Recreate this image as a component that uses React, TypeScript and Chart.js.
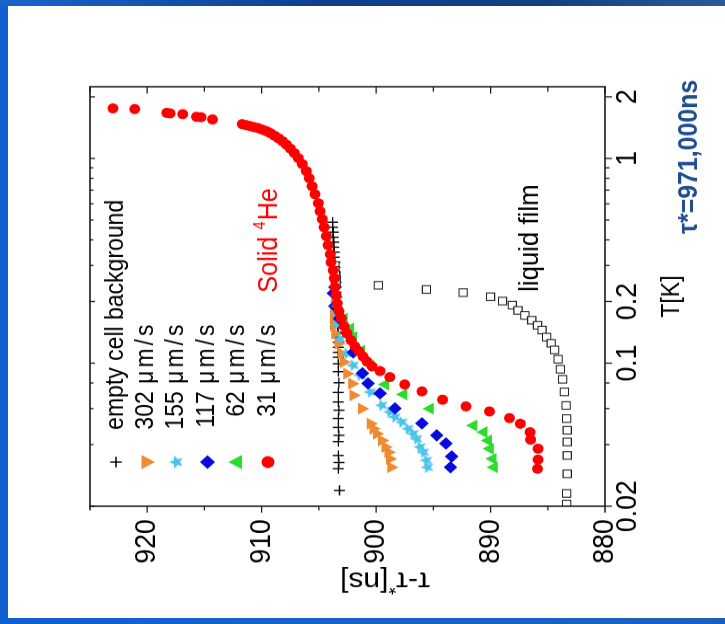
import React, { useEffect, useRef } from 'react';
import { Chart, registerables } from 'chart.js';
import { drawPoint } from 'chart.js/helpers';

Chart.register(...registerables);

const FONT = '"Liberation Sans", Arial, Helvetica, sans-serif';

// Temperature T [K] and delay tau - tau* [ns] for each run

const tempBackground = [
  0.488, 0.4613, 0.4361, 0.4123, 0.3897, 0.3684, 0.3483, 0.3292, 0.3112, 0.2942,
  0.278, 0.2628, 0.2485, 0.2349, 0.222, 0.2099, 0.1984, 0.1875, 0.1772, 0.1675,
  0.1583, 0.1497, 0.1415, 0.1337, 0.1264, 0.1195, 0.1129, 0.1068, 0.0993, 0.0909,
  0.0802, 0.0719, 0.0646, 0.0589, 0.0537, 0.0485, 0.0444, 0.0414, 0.0354, 0.0327,
  0.0305, 0.0239,
];
const tauBackground = [
  903.8, 903.8, 903.75, 903.75, 903.7, 903.7, 903.65, 903.65, 903.6, 903.6,
  903.55, 903.55, 903.5, 903.5, 903.5, 903.45, 903.45, 903.4, 903.4, 903.4,
  903.35, 903.35, 903.35, 903.3, 903.3, 903.3, 903.3, 903.3, 903.3, 903.3,
  903.25, 903.3, 903.3, 903.25, 903.3, 903.3, 903.25, 903.3, 903.3, 903.25,
  903.3, 903.2,
];

const temp302 = [
  0.2, 0.18, 0.165, 0.1526, 0.1394, 0.1246, 0.1113, 0.1012, 0.0888, 0.0794,
  0.0696, 0.0599, 0.0506, 0.0478, 0.0452, 0.0419, 0.0389, 0.0367, 0.0341, 0.031,
];
const tau302 = [
  903.6, 903.7, 903.7, 903.7, 903.6, 903.3, 903.0, 902.85, 902.55, 902.1,
  902.0, 901.25, 900.5, 900.25, 899.95, 899.5, 899.2, 898.95, 898.8, 898.7,
];

const temp155 = [
  0.2, 0.175, 0.155, 0.1317, 0.1113, 0.0976, 0.0872, 0.0722, 0.0622, 0.0577,
  0.0545, 0.0515, 0.0478, 0.0452, 0.0427, 0.0389, 0.0367, 0.0335, 0.031,
];
const tau155 = [
  903.5, 903.5, 903.4, 903.15, 902.55, 902.0, 901.4, 900.5, 899.5, 898.8,
  898.35, 897.75, 897.2, 896.75, 896.45, 896.15, 895.85, 895.6, 895.5,
];

const temp117 = [
  0.235, 0.2195, 0.19, 0.165, 0.14, 0.1129, 0.0892, 0.0796, 0.0712, 0.0601,
  0.0508, 0.0444, 0.0405, 0.035, 0.031,
];
const tau117 = [
  903.6, 903.75, 903.6, 903.2, 902.55, 902.0, 901.2, 900.7, 899.65, 898.35,
  896.0, 894.7, 893.9, 893.4, 893.5,
];

const temp62 = [
  0.19, 0.165, 0.1475, 0.1341, 0.115, 0.0976, 0.0787, 0.0704, 0.0599, 0.0496,
  0.046, 0.0419, 0.0382, 0.0341, 0.031,
];
const tau62 = [
  903.3, 902.8, 902.25, 902.0, 901.3, 900.5, 899.2, 897.6, 895.3, 891.5,
  890.6, 890.2, 890.05, 889.8, 889.7,
];

const temp31 = [
  1.756, 1.742, 1.67, 1.66, 1.646, 1.597, 1.59, 1.551, 1.471, 1.455,
  1.439, 1.422, 1.407, 1.383, 1.36, 1.33, 1.293, 1.257, 1.215, 1.168,
  1.117, 1.062, 1.003, 0.938, 0.867, 0.801, 0.732, 0.669, 0.604, 0.552,
  0.505, 0.461, 0.417, 0.377, 0.34, 0.311, 0.284, 0.26, 0.235, 0.2145,
  0.196, 0.179, 0.1656, 0.1514, 0.1399, 0.1293, 0.1208, 0.1142, 0.108, 0.102,
  0.0964, 0.0915, 0.0855, 0.0787, 0.0728, 0.0663, 0.0615, 0.0581, 0.0539, 0.0506,
  0.046, 0.0423, 0.0382, 0.0338, 0.0305,
];
const tau31 = [
  923.0, 921.1, 918.3, 918.0, 916.9, 915.7, 915.3, 914.3, 911.7, 911.35,
  911.0, 910.65, 910.3, 909.95, 909.6, 909.25, 908.9, 908.55, 908.2, 907.85,
  907.5, 907.15, 906.8, 906.45, 906.1, 905.85, 905.6, 905.35, 905.05, 904.9,
  904.7, 904.55, 904.35, 904.2, 904.0, 903.95, 903.75, 903.65, 903.6, 903.5,
  903.4, 903.25, 903.05, 902.8, 902.55, 902.2, 901.85, 901.5, 901.15, 900.8,
  900.35, 899.65, 898.8, 897.5, 896.0, 894.2, 892.15, 890.1, 888.35, 887.4,
  886.55, 886.5, 885.85, 885.85, 885.9,
];

const tempFilm = [
  0.3, 0.284, 0.27, 0.258, 0.249, 0.24, 0.229, 0.221, 0.211, 0.201,
  0.192, 0.181, 0.171, 0.162, 0.153, 0.145, 0.134, 0.125, 0.116, 0.1045,
  0.0934, 0.0834, 0.0724, 0.0621, 0.0536, 0.047, 0.0412, 0.0354, 0.0288, 0.0231,
  0.0205,
];
const tauFilm = [
  903.6, 903.6, 903.55, 903.5, 903.5, 899.8, 895.6, 892.4, 890.0, 888.95,
  888.1, 887.6, 887.0, 886.4, 885.9, 885.5, 885.1, 884.7, 884.4, 884.1,
  883.9, 883.7, 883.55, 883.4, 883.35, 883.3, 883.3, 883.3, 883.3, 883.35,
  883.35,
];

// Axis ticks
const T_TICKS = [0.02, 0.04, 0.06, 0.08, 0.1, 0.2, 0.3, 0.4, 0.5, 0.6, 0.7, 0.8, 0.9, 1, 2];
const T_LABELS = [0.02, 0.1, 0.2, 1, 2];
const T_MIN = 0.02;
const T_MAX = 2.24;
const TAU_MIN = 880;
const TAU_MAX = 925;
const TAU_STEP = 5;
const TAU_LABEL_STEP = 10;

// The panel is laid out lying on its side and turned a quarter turn on screen
const PANEL_W = 678;
const PANEL_H = 725;
const SQUEEZE = 0.92;

const pts = (t: number[], tau: number[]) => t.map((v, i) => ({ x: v, y: tau[i] }));

function makeStar(color: string, r: number) {
  const size = Math.ceil(r * 2) + 2;
  const c = document.createElement('canvas');
  c.width = size;
  c.height = size;
  const g = c.getContext('2d')!;
  g.translate(size / 2, size / 2);
  g.beginPath();
  for (let i = 0; i < 10; i++) {
    const rr = i % 2 === 0 ? r : r * 0.45;
    const a = -Math.PI / 2 + (i * Math.PI) / 5;
    g.lineTo(rr * Math.cos(a), rr * Math.sin(a));
  }
  g.closePath();
  g.fillStyle = color;
  g.fill();
  return c;
}

const framePlugin = {
  id: 'frame',
  afterDatasetsDraw(chart: any) {
    const { ctx, chartArea: a, scales } = chart;
    const x = scales.x;
    const y = scales.y;
    ctx.save();
    ctx.strokeStyle = '#1a1a1a';
    ctx.lineWidth = 1.6;
    ctx.strokeRect(a.left, a.top, a.right - a.left, a.bottom - a.top);
    ctx.lineWidth = 1.3;
    ctx.beginPath();
    for (const t of x.ticks) {
      const px = x.getPixelForValue(t.value);
      const major = T_LABELS.includes(t.value);
      ctx.moveTo(px, a.bottom);
      ctx.lineTo(px, a.bottom + (major ? 7 : 4.5));
      ctx.moveTo(px, a.top);
      ctx.lineTo(px, a.top + (major ? 5 : 3.5));
    }
    for (const t of y.ticks) {
      const py = y.getPixelForValue(t.value);
      const major = t.value % TAU_LABEL_STEP === 0;
      ctx.moveTo(a.left, py);
      ctx.lineTo(a.left - (major ? 7 : 4.5), py);
      ctx.moveTo(a.right, py);
      ctx.lineTo(a.right - (major ? 7.5 : 5.5), py);
    }
    ctx.stroke();
    ctx.restore();
  },
};

// draws a word with its letters spread evenly to end at a given position
function spreadText(ctx: CanvasRenderingContext2D, text: string, start: number, end: number, v: number) {
  const chars = Array.from(text);
  const widths = chars.map((c) => ctx.measureText(c).width);
  const natural = widths.reduce((s, w) => s + w, 0);
  const gap = chars.length > 1 ? Math.max(0, (end - start - natural) / (chars.length - 1)) : 0;
  let u = start;
  chars.forEach((c, i) => {
    ctx.fillText(c, u, v);
    u += widths[i] + gap;
  });
}

const notesPlugin = {
  id: 'notes',
  afterDraw(chart: any) {
    const ctx = chart.ctx;
    const sets = chart.data.datasets;
    ctx.save();

    // legend, one row per run
    const legendOrder = [6, 4, 3, 2, 1, 0];
    const legendSize = [5.8, 9, 7, 7.5, 9, 6.5];
    const rowV = [116, 146, 176.5, 207.5, 237.5, 268];
    ctx.textBaseline = 'middle';
    ctx.fillStyle = '#000';
    legendOrder.forEach((di, i) => {
      const ds = sets[di];
      const v = rowV[i];
      ctx.save();
      ctx.fillStyle = ds.pointBackgroundColor;
      ctx.strokeStyle = ds.pointBorderColor;
      ctx.lineWidth = ds.pointBorderWidth;
      const style = typeof ds.pointStyle === 'string' ? ds.pointStyle : ds.legendStar;
      drawPoint(
        ctx,
        {
          pointStyle: style,
          rotation: ds.pointRotation || 0,
          radius: legendSize[i],
          borderWidth: ds.pointBorderWidth,
        },
        176,
        v
      );
      ctx.restore();
      ctx.font = `25px ${FONT}`;
      ctx.fillStyle = '#000';
      ctx.textAlign = 'left';
      const label: string = ds.label;
      const sp = label.indexOf(' μm/s');
      if (sp < 0) {
        ctx.fillText(label, 211, v);
      } else {
        ctx.textAlign = 'right';
        ctx.fillText(label.slice(0, sp), 253, v);
        ctx.textAlign = 'left';
        spreadText(ctx, 'μm/s', 261, 338 - ctx.measureText('s').width, v);
      }
    });

    // sample label
    ctx.textAlign = 'left';
    ctx.textBaseline = 'alphabetic';
    ctx.fillStyle = '#ff0000';
    ctx.font = `27.5px ${FONT}`;
    let u = 360;
    ctx.fillText('Solid ', u, 277);
    u += ctx.measureText('Solid ').width;
    ctx.font = `16px ${FONT}`;
    ctx.fillText('4', u, 265);
    u += ctx.measureText('4').width + 1;
    ctx.font = `27.5px ${FONT}`;
    ctx.fillText('He', u, 277);

    ctx.fillStyle = '#000';
    ctx.font = `28px ${FONT}`;
    ctx.fillText('liquid film', 361, 538);

    ctx.fillStyle = '#1f4d8f';
    ctx.font = `bold 27px ${FONT}`;
    ctx.fillText('τ*=971,000ns', 424, 697);

    // delay axis title
    ctx.save();
    ctx.translate(47.5, 385);
    ctx.rotate(-Math.PI / 2);
    ctx.fillStyle = '#000';
    ctx.textBaseline = 'middle';
    ctx.font = `30px ${FONT}`;
    const pa = 'τ-τ';
    const pc = '[ns]';
    const wa = ctx.measureText(pa).width;
    const wc = ctx.measureText(pc).width;
    ctx.font = `20px ${FONT}`;
    const wb = ctx.measureText('*').width;
    const x0 = -(wa + wb + wc) / 2;
    ctx.font = `30px ${FONT}`;
    ctx.fillText(pa, x0, 0);
    ctx.font = `20px ${FONT}`;
    ctx.fillText('*', x0 + wa, -7);
    ctx.font = `30px ${FONT}`;
    ctx.fillText(pc, x0 + wa + wb, 0);
    ctx.restore();

    ctx.restore();
  },
};

export default function App() {
  const ref = useRef<HTMLCanvasElement | null>(null);

  useEffect(() => {
    if (!ref.current) return;
    const star = makeStar('#4cc4ea', 7);
    const bigStar = makeStar('#4cc4ea', 7.5);
    const chart = new Chart(ref.current, {
      type: 'scatter',
      data: {
        datasets: [
          {
            label: '31 μm/s',
            data: pts(temp31, tau31),
            pointStyle: 'circle',
            pointRadius: 5.5,
            pointBackgroundColor: '#ff0000',
            pointBorderColor: '#ff0000',
            pointBorderWidth: 0,
          },
          {
            label: '62 μm/s',
            data: pts(temp62, tau62),
            pointStyle: 'triangle',
            pointRadius: 7.5,
            pointBackgroundColor: '#2bdc2b',
            pointBorderColor: '#2bdc2b',
            pointBorderWidth: 0,
          },
          {
            label: '117 μm/s',
            data: pts(temp117, tau117),
            pointStyle: 'rectRot',
            pointRadius: 6.8,
            pointBackgroundColor: '#0a0ae0',
            pointBorderColor: '#0a0ae0',
            pointBorderWidth: 0,
          },
          {
            label: '155 μm/s',
            data: pts(temp155, tau155),
            pointStyle: star,
            legendStar: bigStar,
            pointRadius: 7,
            pointBackgroundColor: '#4cc4ea',
            pointBorderColor: '#4cc4ea',
            pointBorderWidth: 0,
          },
          {
            label: '302 μm/s',
            data: pts(temp302, tau302),
            pointStyle: 'triangle',
            pointRotation: 180,
            pointRadius: 7.5,
            pointBackgroundColor: '#f08a30',
            pointBorderColor: '#f08a30',
            pointBorderWidth: 0,
          },
          {
            label: 'liquid film',
            data: pts(tempFilm, tauFilm),
            pointStyle: 'rect',
            pointRadius: 5.8,
            pointBackgroundColor: '#ffffff',
            pointBorderColor: '#222222',
            pointBorderWidth: 1.1,
          },
          {
            label: 'empty cell background',
            data: pts(tempBackground, tauBackground),
            pointStyle: 'cross',
            pointRadius: 5.5,
            pointBackgroundColor: '#000000',
            pointBorderColor: '#000000',
            pointBorderWidth: 1.4,
          },
        ] as any,
      },
      options: {
        animation: false,
        responsive: true,
        maintainAspectRatio: false,
        events: [],
        layout: { padding: { top: 90, right: 94, bottom: 0, left: 0 } },
        plugins: {
          legend: { display: false },
          tooltip: { enabled: false },
        },
        scales: {
          x: {
            type: 'logarithmic',
            position: 'bottom',
            min: T_MIN,
            max: T_MAX,
            grid: { display: false, drawTicks: false },
            border: { display: false },
            afterBuildTicks: (s: any) => {
              s.ticks = T_TICKS.map((v) => ({ value: v }));
            },
            afterFit: (s: any) => {
              s.height = 120;
            },
            ticks: {
              autoSkip: false,
              maxRotation: 0,
              minRotation: 0,
              padding: 6,
              color: '#000',
              font: { family: FONT, size: 29 },
              callback: (v: any) => (T_LABELS.includes(Number(v)) ? String(v) : ''),
            },
            title: {
              display: true,
              text: 'T[K]',
              color: '#000',
              font: { family: FONT, size: 25 },
              padding: { top: 0, bottom: 38 },
            },
          },
          y: {
            type: 'linear',
            min: TAU_MIN,
            max: TAU_MAX,
            grid: { display: false, drawTicks: false },
            border: { display: false },
            afterFit: (s: any) => {
              s.width = 128;
            },
            ticks: {
              stepSize: TAU_STEP,
              autoSkip: false,
              padding: 14,
              color: '#000',
              font: { family: FONT, size: 29 },
              callback: (v: any) => (Number(v) % TAU_LABEL_STEP === 0 ? String(v) : ''),
            },
          },
        },
      } as any,
      plugins: [framePlugin, notesPlugin],
    });
    return () => chart.destroy();
  }, []);

  return (
    <div
      style={{
        position: 'fixed',
        left: 0,
        top: 0,
        width: 725,
        height: 624,
        overflow: 'hidden',
        background: 'linear-gradient(90deg, #0f5fd2 0%, #1763c8 60%, #1a5fbe 100%)',
      }}
    >
      <div
        style={{
          position: 'absolute',
          left: 0,
          top: 0,
          width: 725,
          height: 6,
          background: 'linear-gradient(90deg, #1a63cc 0%, #0e3f8c 45%, #12407f 75%, #2a5a9a 100%)',
        }}
      />
      <div style={{ position: 'absolute', left: 8, top: 6, right: 0, bottom: 6, background: '#ffffff' }} />
      <div
        style={{
          position: 'absolute',
          left: 0,
          top: 624,
          width: PANEL_W,
          height: PANEL_H,
          transformOrigin: '0 0',
          transform: `rotate(-90deg) scaleX(${SQUEEZE})`,
        }}
      >
        <canvas ref={ref} style={{ display: 'block' }} />
      </div>
    </div>
  );
}
